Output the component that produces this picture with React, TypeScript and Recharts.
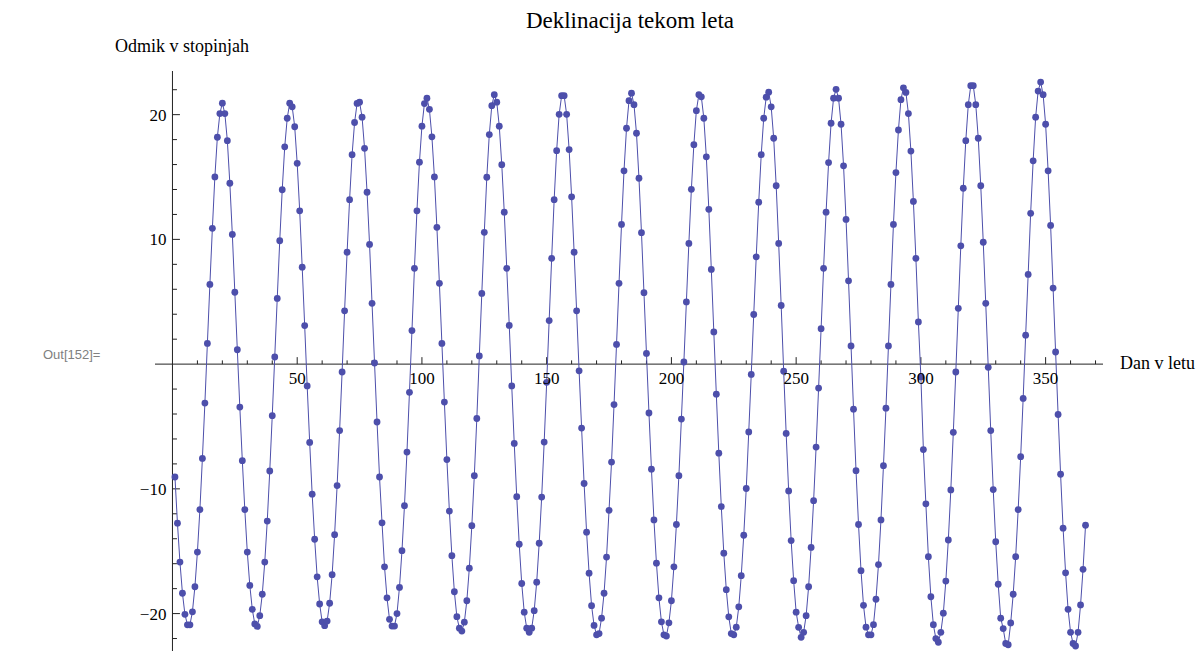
import { LineChart, Line, XAxis, YAxis, ReferenceLine } from 'recharts';

// lunar declination, one value per day (degrees)
const decQ1 = [
  -9.05, -12.75, -15.87, -18.37, -20.06, -20.9, -20.9, -19.86, -17.85, -15.07,
  -11.66, -7.56, -3.12, 1.66, 6.39, 10.89, 15.01, 18.19, 20.09, 20.92,
  20.09, 17.91, 14.5, 10.4, 5.76, 1.15, -3.44, -7.74, -11.66, -15.07,
  -17.74, -19.66, -20.83, -21.03, -20.17, -18.45, -15.87, -12.58, -8.57, -4.13,
  0.57, 5.27, 9.89, 13.98, 17.42, 19.71, 20.92, 20.63, 19.03, 16.1,
  12.29, 7.77, 3.09, -1.75, -6.28, -10.43, -14.04, -17.05, -19.23, -20.66,
  -20.97, -20.6, -19.17, -16.88, -13.67, -9.74, -5.33, -0.63, 4.27, 8.97,
  13.18, 16.79, 19.37, 20.9, 21.0, 19.8, 17.3, 13.78, 9.6, 4.87,
  0.09, -4.64, -9.05, -12.72, -16.25, -18.74, -20.46, -21.0, -21.0, -20.0,
  -17.9, -14.96,
];

const decQ2 = [
  -11.35, -7.05, -2.26, 2.69, 7.68, 12.29, 16.19, 19.08,
  20.89, 21.32, 20.43, 18.22, 15.01, 10.97, 6.48, 1.66, -3.04, -7.65,
  -11.78, -15.36, -18.25, -20.25, -21.17, -21.4, -20.69, -18.97, -16.36, -12.95,
  -8.94, -4.36, 0.66, 5.67, 10.57, 14.98, 18.4, 20.72, 21.6, 21.0,
  19.08, 15.99, 12.18, 7.68, 3.1, -1.75, -6.36, -10.63, -14.44, -17.59,
  -19.89, -21.17, -21.5, -21.17, -19.77, -17.48, -14.36, -10.66, -6.25, -1.46,
  3.49, 8.48, 13.18, 17.11, 20.03, 21.52, 21.52, 20.03, 17.2, 13.41,
  8.97, 4.27, -0.54, -5.13, -9.57, -13.47, -16.76, -19.37, -20.95, -21.7,
  -21.6, -20.37, -18.37, -15.47, -11.72, -7.85, -3.24, 1.58, 6.48, 11.2,
  15.5, 18.91, 21.12,
];

const decQ3 = [
  21.72, 20.8, 18.51, 14.9, 10.54, 5.73, 0.86,
  -3.92, -8.42, -12.49, -15.96, -18.74, -20.66, -21.7, -21.8, -20.74, -18.97,
  -16.25, -12.86, -8.94, -4.41, 0.17, 4.99, 9.68, 14.01, 17.59, 20.32,
  21.6, 21.43, 19.71, 16.62, 12.41, 7.59, 2.58, -2.41, -7.14, -11.43,
  -15.16, -18.08, -20.26, -21.6, -21.7, -21.09, -19.46, -16.96, -13.72, -9.97,
  -5.44, -0.83, 3.98, 8.6, 12.98, 16.79, 19.71, 21.4, 21.8, 20.63,
  18.11, 14.3, 9.68, 4.7, -0.57, -5.56, -10.17, -14.15, -17.36, -19.89,
  -21.1, -21.9, -21.5, -20.17, -17.85, -14.7, -10.95, -6.65, -1.92, 2.84,
  7.68, 12.18, 16.16, 19.31, 21.32, 22.03, 21.32, 19.23, 15.9, 11.6,
  6.68, 1.46, -3.61, -8.54, -12.86,
];

const decQ4 = [
  -16.56, -19.34, -21.09, -21.7, -21.7,
  -20.89, -18.85, -16.07, -12.49, -8.14, -3.53, 1.46, 6.39, 11.2, 15.36,
  18.77, 21.2, 22.15, 21.78, 20.09, 17.08, 13.04, 8.48, 3.38, -1.03,
  -6.85, -11.2, -15.44, -18.65, -20.89, -22.0, -22.3, -21.5, -19.97, -17.39,
  -14.1, -10.09, -5.47, -0.63, 4.47, 9.48, 14.1, 17.91, 20.8, 22.32,
  22.32, 20.8, 18.11, 14.3, 9.77, 4.87, -0.26, -5.33, -10.06, -14.24,
  -17.65, -20.37, -21.2, -22.4, -22.5, -20.75, -18.45, -15.44, -11.66, -7.42,
  -2.75, 2.32, 7.19, 12.09, 16.3, 19.8, 21.89, 22.61, 21.6, 19.23,
  15.5, 11.12, 6.1, 0.97, -4.04, -8.83, -13.15, -16.73, -19.66, -21.5,
  -22.4, -22.6, -21.5, -19.31, -16.45, -12.92,
];

const X_MAJOR = [50, 100, 150, 200, 250, 300, 350];
const X_MINOR = [
  10, 20, 30, 40, 60, 70, 80, 90, 110, 120, 130, 140, 160, 170, 180, 190,
  210, 220, 230, 240, 260, 270, 280, 290, 310, 320, 330, 340, 360, 370,
];
const Y_MAJOR = [-20, -10, 10, 20];
const Y_MINOR = [-22, -18, -16, -14, -12, -8, -6, -4, -2, 2, 4, 6, 8, 12, 14, 16, 18, 22];

const declination = [...decQ1, ...decQ2, ...decQ3, ...decQ4];
const data = declination.map((value, i) => ({ day: i + 1, value }));

const SERIF = '"Liberation Serif", "Times New Roman", serif';
const AXIS = '#222';
const BLUE = '#4d4fab';

const fmt = (v: number) => (v < 0 ? `\u2212${Math.abs(v)}` : `${v}`);

export default function App() {
  return (
    <div
      style={{
        position: 'absolute',
        left: 0,
        top: 0,
        width: 1201,
        height: 655,
        background: '#fff',
        fontFamily: SERIF,
      }}
    >
      <div style={{ position: 'absolute', left: 0, width: 1260, top: 9, textAlign: 'center', fontSize: 23, lineHeight: 1 }}>
        Deklinacija tekom leta
      </div>
      <div style={{ position: 'absolute', left: 115, top: 37, fontSize: 18, lineHeight: 1 }}>
        Odmik v stopinjah
      </div>
      <div style={{ position: 'absolute', left: 1120, top: 354, fontSize: 18, lineHeight: 1 }}>
        Dan v letu
      </div>
      <div
        style={{
          position: 'absolute',
          left: 43,
          top: 348,
          fontSize: 13,
          lineHeight: 1,
          color: '#808080',
          fontFamily: '"Liberation Sans", Arial, sans-serif',
        }}
      >
        Out[152]=
      </div>

      <LineChart
        width={1201}
        height={655}
        data={data}
        margin={{ top: 71, right: 98, bottom: 4, left: 155 }}
        style={{ position: 'absolute', left: 0, top: 0 }}
      >
        <XAxis type="number" dataKey="day" domain={[-7, 373]} hide allowDataOverflow />
        <YAxis type="number" domain={[-23, 23.5]} hide allowDataOverflow />

        {/* axes through the origin */}
        <ReferenceLine y={0} stroke={AXIS} strokeWidth={1} />
        <ReferenceLine x={0} stroke={AXIS} strokeWidth={1} />

        {X_MINOR.map((d) => (
          <ReferenceLine key={`xm${d}`} segment={[{ x: d, y: 0 }, { x: d, y: 0.3 }]} stroke={AXIS} />
        ))}
        {X_MAJOR.map((d) => (
          <ReferenceLine
            key={`xM${d}`}
            segment={[{ x: d, y: 0 }, { x: d, y: 0.56 }]}
            stroke={AXIS}
            label={{ value: fmt(d), position: 'bottom', offset: 8, fontSize: 17, fill: '#000', fontFamily: SERIF }}
          />
        ))}
        {Y_MINOR.map((v) => (
          <ReferenceLine key={`ym${v}`} segment={[{ x: 0, y: v }, { x: 1.8, y: v }]} stroke={AXIS} />
        ))}
        {Y_MAJOR.map((v) => (
          <ReferenceLine
            key={`yM${v}`}
            segment={[{ x: 0, y: v }, { x: 3, y: v }]}
            stroke={AXIS}
            label={{ value: fmt(v), position: 'left', offset: 6, fontSize: 17, fill: '#000', fontFamily: SERIF }}
          />
        ))}

        <Line
          type="linear"
          dataKey="value"
          stroke={BLUE}
          strokeWidth={1}
          dot={{ r: 3.4, fill: BLUE, stroke: 'none' }}
          isAnimationActive={false}
        />
      </LineChart>
    </div>
  );
}
